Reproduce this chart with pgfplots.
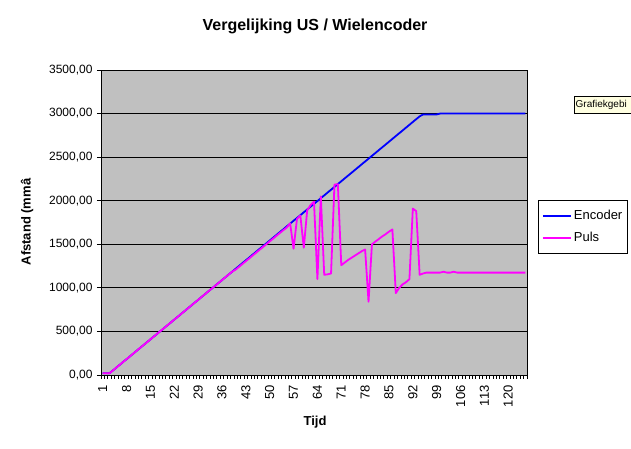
\documentclass[border=0pt]{standalone}
\usepackage{pgfplots}
\pgfplotsset{compat=1.18}
\usepackage{fontspec}
\setmainfont{Liberation Sans}
\definecolor{plotgray}{RGB}{192,192,192}
\definecolor{tipyellow}{RGB}{255,255,225}
\definecolor{encblue}{RGB}{0,0,255}
\definecolor{pulsmag}{RGB}{255,0,255}
\begin{document}
\begin{tikzpicture}[x=1pt,y=1pt]
\path[use as bounding box] (-101,-74) rectangle (530,375);
\begin{axis}[
  at={(0,0)}, anchor=south west, scale only axis,
  width=426pt, height=305pt,
  xmin=0.5, xmax=125.5, ymin=0, ymax=3500,
  axis background/.style={fill=plotgray},
  axis line style={black, line width=0.9pt},
  tick align=outside, tick pos=left,
  tick style={black, line width=0.8pt},
  major tick length=4pt, minor tick length=4pt,
  ytick={0,500,...,3500},
  scaled y ticks=false,
  /pgf/number format/assume math mode=true,
  yticklabel style={/pgf/number format/fixed, /pgf/number format/fixed zerofill, /pgf/number format/precision=2, /pgf/number format/use comma, /pgf/number format/1000 sep={}, font=\fontsize{12}{14}\selectfont, xshift=-1pt},
  xtick={0.5,1.5,...,125.5},
  xticklabels={},
  extra x ticks={1,8,15,22,29,36,43,50,57,64,71,78,85,92,99,106,113,120},
  extra x tick style={major tick length=0pt},
  xticklabel style={rotate=90, anchor=east, font=\fontsize{13}{15}\selectfont, xshift=-7pt},
  ymajorgrids, major grid style={black, line width=0.9pt},
  legend style={at={(1.0258,0.5745)}, anchor=north west, draw=black, line width=0.8pt, fill=white,
    font=\fontsize{13}{15}\selectfont, inner xsep=3.5pt, inner ysep=8pt, row sep=7pt, cells={anchor=west}},
  legend image code/.code={\draw[#1, line width=2pt] (0pt,0pt) -- (28pt,0pt);},
]
\addplot[encblue, line width=1.8pt, line join=round] coordinates {
(1,20) (2,20) (3,20) (4,52) (5,85) (6,117) (7,150) (8,182) (9,214) (10,247)
(11,279) (12,312) (13,344) (14,376) (15,409) (16,441) (17,474) (18,506) (19,538) (20,571)
(21,603) (22,636) (23,668) (24,700) (25,733) (26,765) (27,798) (28,830) (29,862) (30,895)
(31,927) (32,960) (33,992) (34,1024) (35,1057) (36,1089) (37,1122) (38,1154) (39,1186) (40,1219)
(41,1251) (42,1284) (43,1316) (44,1348) (45,1381) (46,1413) (47,1446) (48,1478) (49,1510) (50,1543)
(51,1575) (52,1608) (53,1640) (54,1672) (55,1705) (56,1737) (57,1770) (58,1802) (59,1834) (60,1867)
(61,1899) (62,1932) (63,1964) (64,1996) (65,2029) (66,2061) (67,2094) (68,2126) (69,2158) (70,2191)
(71,2223) (72,2256) (73,2288) (74,2320) (75,2353) (76,2385) (77,2418) (78,2450) (79,2482) (80,2515)
(81,2547) (82,2580) (83,2612) (84,2644) (85,2677) (86,2709) (87,2742) (88,2774) (89,2806) (90,2839)
(91,2871) (92,2904) (93,2936) (94,2968) (95,2990) (96,2990) (97,2990) (98,2990) (99,2990) (100,3000)
(101,3000) (102,3000) (103,3000) (104,3000) (105,3000) (106,3000) (107,3000) (108,3000) (109,3000) (110,3000)
(111,3000) (112,3000) (113,3000) (114,3000) (115,3000) (116,3000) (117,3000) (118,3000) (119,3000) (120,3000)
(121,3000) (122,3000) (123,3000) (124,3000) (125,3000)
};
\addlegendentry{Encoder}
\addplot[pulsmag, line width=1.8pt, line join=round] coordinates {
(1,20) (2,20) (3,20) (4,52) (5,85) (6,117) (7,150) (8,182) (9,214) (10,247)
(11,279) (12,312) (13,344) (14,376) (15,409) (16,441) (17,474) (18,506) (19,538) (20,571)
(21,603) (22,636) (23,668) (24,700) (25,733) (26,765) (27,798) (28,830) (29,862) (30,895)
(31,927) (32,960) (33,992) (34,1024) (35,1057) (36,1089) (37,1122) (38,1154) (39,1186) (40,1209)
(41,1241) (42,1274) (43,1306) (44,1338) (45,1371) (46,1403) (47,1436) (48,1468) (49,1500) (50,1533)
(51,1565) (52,1598) (53,1630) (54,1662) (55,1692) (56,1740) (57,1450) (58,1790) (59,1830) (60,1460)
(61,1890) (62,1950) (63,1990) (64,1100) (65,2050) (66,1150) (67,1155) (68,1165) (69,2185) (70,2190)
(71,1260) (72,1290) (73,1320) (74,1345) (75,1370) (76,1395) (77,1420) (78,1440) (79,840) (80,1500)
(81,1530) (82,1560) (83,1590) (84,1615) (85,1645) (86,1670) (87,940) (88,1000) (89,1040) (90,1065)
(91,1100) (92,1910) (93,1880) (94,1150) (95,1165) (96,1175) (97,1175) (98,1175) (99,1175) (100,1175)
(101,1185) (102,1175) (103,1175) (104,1185) (105,1175) (106,1175) (107,1175) (108,1175) (109,1175) (110,1175)
(111,1175) (112,1175) (113,1175) (114,1175) (115,1175) (116,1175) (117,1175) (118,1175) (119,1175) (120,1175)
(121,1175) (122,1175) (123,1175) (124,1175) (125,1175)
};
\addlegendentry{Puls}
\end{axis}
\node[font=\bfseries\fontsize{16}{19}\selectfont] at (214,349) {Vergelijking US / Wielencoder};
\node[font=\bfseries\fontsize{13}{15}\selectfont] at (214,-47) {Tijd};
\node[font=\bfseries\fontsize{13}{15}\selectfont, rotate=90] at (-74,153) {Afstand (mmâ};
\begin{scope}
\clip (-101,-74) rectangle (530,375);
\draw[black, line width=0.5pt, fill=tipyellow] (473,262) rectangle (532,279);
\node[anchor=west, inner xsep=1.5pt, inner ysep=0pt, font=\fontsize{10}{12}\selectfont] at (473,270.5) {Grafiekgebi};
\end{scope}
\end{tikzpicture}
\end{document}
